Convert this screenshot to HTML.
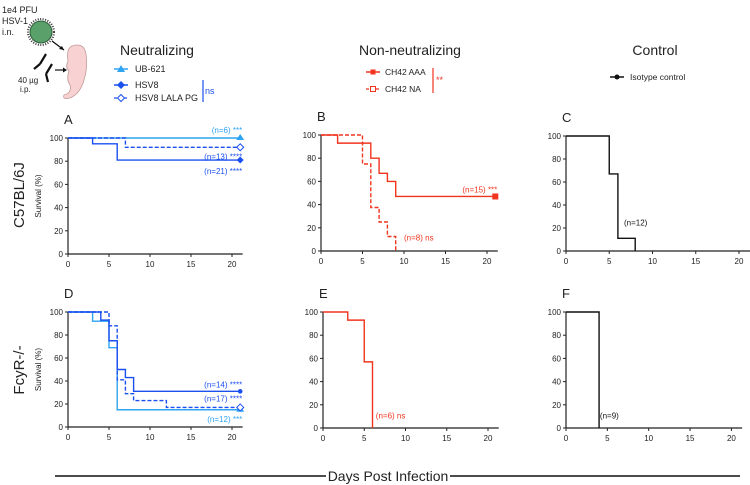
<!DOCTYPE html>
<html><head><meta charset="utf-8"><style>
body{margin:0;background:#fff;}
svg{display:block;font-family:"Liberation Sans",Arial,sans-serif;}
</style></head><body>
<svg id="fig" width="750" height="485" viewBox="0 0 750 485" xmlns="http://www.w3.org/2000/svg">
<g>
<text x="2" y="13" font-size="9" fill="#222">1e4 PFU</text>
<text x="2" y="24" font-size="9" fill="#222">HSV-1</text>
<text x="2" y="35" font-size="9" fill="#222">i.n.</text>
<circle cx="41" cy="32" r="13" fill="none" stroke="#333" stroke-width="2" stroke-dasharray="1 1.5"/>
<circle cx="41" cy="32" r="11" fill="#5aa06a" stroke="#2c5a38" stroke-width="1"/>
<line x1="52" y1="41" x2="64" y2="50" stroke="#111" stroke-width="1.3"/>
<path d="M64 50 l-5 -1 l3 -3z" fill="#111"/>
<path d="M72 46 q12 -4 14 8 q2 14 -2 26 q-4 14 -14 18 q-8 2 -6 -3 q8 -2 6 -10 q-4 -6 -1 -14 q-4 -4 -1 -10 q-2 -12 4 -15z" fill="#f8d2d2" stroke="#c49a9a" stroke-width="0.8"/>
<g stroke="#111" stroke-width="2.2" fill="none">
<path d="M40 64 l6 -10 M40 64 l-6 5 M46 74 l6 -10 M46 74 l2 8"/>
</g>
<line x1="55" y1="70" x2="66" y2="70" stroke="#111" stroke-width="1.2"/>
<path d="M67 70 l-4 -2.5 v5z" fill="#111"/>
<text x="18" y="83" font-size="8" fill="#222">40 µg</text>
<text x="20" y="92" font-size="8" fill="#222">i.p.</text>
</g>
<text x="157" y="55" font-size="14" text-anchor="middle" fill="#222">Neutralizing</text>
<g>
<line x1="114" y1="69" x2="128" y2="69" stroke="#2ea3f2" stroke-width="1.5"/><path d="M121 65 l4 7 h-8z" fill="#2ea3f2"/>
<text x="135" y="72" font-size="9" fill="#222">UB-621</text>
<line x1="114" y1="85" x2="128" y2="85" stroke="#1a4ff0" stroke-width="1.5"/><path d="M121 81 l4 4 l-4 4 l-4 -4z" fill="#1a4ff0"/>
<text x="135" y="88" font-size="9" fill="#222">HSV8</text>
<line x1="114" y1="98" x2="128" y2="98" stroke="#1a4ff0" stroke-width="1.2" stroke-dasharray="3 2"/><path d="M121 94.5 l3.5 3.5 l-3.5 3.5 l-3.5 -3.5z" fill="#fff" stroke="#1a4ff0"/>
<text x="135" y="101" font-size="9" fill="#222">HSV8 LALA PG</text>
<line x1="203" y1="80" x2="203" y2="102" stroke="#1a4ff0" stroke-width="1.2"/>
<text x="205" y="94" font-size="9" fill="#1a4ff0">ns</text>
</g>
<text x="410" y="55" font-size="14" text-anchor="middle" fill="#222">Non-neutralizing</text>
<g>
<line x1="366" y1="72" x2="380" y2="72" stroke="#f0341e" stroke-width="1.5"/><rect x="370.5" y="69.5" width="5" height="5" fill="#f0341e"/>
<text x="385" y="75" font-size="8.5" fill="#222">CH42 AAA</text>
<line x1="366" y1="89" x2="380" y2="89" stroke="#f0341e" stroke-width="1.2" stroke-dasharray="3 2"/><rect x="370.5" y="86.5" width="5" height="5" fill="#fff" stroke="#f0341e"/>
<text x="385" y="92" font-size="8.5" fill="#222">CH42 NA</text>
<line x1="433" y1="68" x2="433" y2="93" stroke="#f0341e" stroke-width="1.2"/>
<text x="436" y="83" font-size="9" fill="#f0341e">**</text>
</g>
<text x="655" y="55" font-size="14" text-anchor="middle" fill="#222">Control</text>
<g>
<line x1="610" y1="77" x2="624" y2="77" stroke="#111" stroke-width="1.5"/><circle cx="617" cy="77" r="2.5" fill="#111"/>
<text x="630" y="80" font-size="8.5" fill="#222">Isotype control</text>
</g>
<text transform="translate(24,195) rotate(-90)" font-size="15" text-anchor="middle" fill="#222">C57BL/6J</text>
<text transform="translate(24,370) rotate(-90)" font-size="15" text-anchor="middle" fill="#222">FcyR-/-</text>
<g id="panels"></g>
<g>
<line x1="55" y1="476" x2="326" y2="476" stroke="#111" stroke-width="1.6"/>
<line x1="450" y1="476" x2="740" y2="476" stroke="#111" stroke-width="1.6"/>
<text x="388" y="481" font-size="14" text-anchor="middle" fill="#222">Days Post Infection</text>
</g>
</svg>
<script>
const LB="#2ea3f2", DB="#1a4ff0", RD="#f0341e", BK="#111";
const xTicks=[0,5,10,15,20];
const yTicks=[0,20,40,60,80,100];
const aUBt=[], aUBs=[];
const aHSVt=[3,6], aHSVs=[95,81];
const aLALAt=[7], aLALAs=[92];
const bAAAt=[2,6,7,8,9], bAAAs=[93,80,67,60,47];
const bNAt=[5,6,7,8,9], bNAs=[75,37.5,25,12.5,0];
const cISOt=[5,6,8], cISOs=[67,11,0];
const dUBt=[3,5,6], dUBs=[92,69,15];
const dHSVt=[4,5,6,7,8], dHSVs=[93,75,50,43,31];
const dLALAt=[5,6,7,8,12], dLALAs=[88,41,29,23,17];
const eAAAt=[3,5,6], eAAAs=[93,57,0];
const fISOt=[4], fISOs=[0];

const panels=[
 {id:"A",x0:68,sc:8.2,yt:138,yb:254,ylab:true,series:[
  {t:aUBt,s:aUBs,c:LB,m:"tri",n:"(n=6) ***",ny:-5},
  {t:aLALAt,s:aLALAs,c:DB,d:true,m:"odia",n:"(n=13) ****",ny:12},
  {t:aHSVt,s:aHSVs,c:DB,m:"dia",n:"(n=21) ****",ny:14}]},
 {id:"B",x0:321,sc:8.3,yt:135,yb:251,series:[
  {t:bAAAt,s:bAAAs,c:RD,m:"sq",n:"(n=15) ***",ny:-4},
  {t:bNAt,s:bNAs,c:RD,d:true,n:"(n=8) ns",nx:10,ny:-3,endAt:"drop"}]},
 {id:"C",x0:566,sc:8.65,yt:136,yb:251,series:[
  {t:cISOt,s:cISOs,c:BK,n:"(n=12)",nx:6.7,nval:22,endAt:"drop"}]},
 {id:"D",x0:68,sc:8.2,yt:312,yb:427,ylab:true,series:[
  {t:dUBt,s:dUBs,c:LB,m:"tri",n:"(n=12) ***",ny:12},
  {t:dLALAt,s:dLALAs,c:DB,d:true,m:"odia",n:"(n=17) ****",ny:-6},
  {t:dHSVt,s:dHSVs,c:DB,m:"dot",n:"(n=14) ****",ny:-4}]},
 {id:"E",x0:323,sc:8.25,yt:312,yb:428,series:[
  {t:eAAAt,s:eAAAs,c:RD,n:"(n=6) ns",nx:6.4,nval:8,endAt:"drop"}]},
 {id:"F",x0:566,sc:8.27,yt:312,yb:428,series:[
  {t:fISOt,s:fISOs,c:BK,n:"(n=9)",nx:4.1,nval:8,endAt:"drop"}]}
];
const NS="http://www.w3.org/2000/svg";
const root=document.getElementById("panels");
function mk(tag,attrs,parent){const e=document.createElementNS(NS,tag);for(const k in attrs)e.setAttribute(k,attrs[k]);parent.appendChild(e);return e;}
panels.forEach(p=>{
 const g=mk("g",{},root);
 
 
 const X=d=>p.x0+d*p.sc, Y=v=>p.yb-(v/100)*(p.yb-p.yt);
 const L=mk("text",{x:p.x0-4,y:p.yt-14,"font-size":13,fill:"#222"},g);L.textContent=p.id;
 
 
 mk("line",{x1:p.x0,y1:p.yt,x2:p.x0,y2:p.yb,stroke:"#222","stroke-width":1.2},g);
 mk("line",{x1:p.x0,y1:p.yb,x2:X(21.3),y2:p.yb,stroke:"#222","stroke-width":1.2},g);
 yTicks.forEach(v=>{mk("line",{x1:p.x0-3,y1:Y(v),x2:p.x0,y2:Y(v),stroke:"#222"},g);
  const t=mk("text",{x:p.x0-5,y:Y(v)+3,"font-size":8,"text-anchor":"end",fill:"#222"},g);t.textContent=v;
  
  });
 xTicks.forEach(v=>{mk("line",{x1:X(v),y1:p.yb,x2:X(v),y2:p.yb+3,stroke:"#222"},g);
  const t=mk("text",{x:X(v),y:p.yb+13,"font-size":8,"text-anchor":"middle",fill:"#222"},g);t.textContent=v;
  
  });
 if(p.ylab){const t=mk("text",{transform:`translate(${p.x0-27},${(p.yt+p.yb)/2}) rotate(-90)`,"font-size":8,"text-anchor":"middle",fill:"#222"},g);t.textContent="Survival (%)";
  
  }
 p.series.forEach(s=>{
  let d=`M${X(0)},${Y(100)}`, cur=100;
  s.t.forEach((tt,i)=>{d+=` H${X(tt)} V${Y(s.s[i])}`;cur=s.s[i];});
  if(s.endAt!=="drop"||cur>0) d+=` H${X(21)}`;
  const path=mk("path",{d:d,fill:"none",stroke:s.c,"stroke-width":1.4},g);
  if(s.d)path.setAttribute("stroke-dasharray","4 2");
  
  
  const ex=X(21), ey=Y(cur);
  let m=null;
  if(s.m==="tri")m=mk("path",{d:`M${ex},${ey-4} l4,6 h-8z`,fill:s.c},g);
  else if(s.m==="dia")m=mk("path",{d:`M${ex},${ey-3.5} l3.5,3.5 l-3.5,3.5 l-3.5,-3.5z`,fill:s.c},g);
  else if(s.m==="odia")m=mk("path",{d:`M${ex},${ey-3.5} l3.5,3.5 l-3.5,3.5 l-3.5,-3.5z`,fill:"#fff",stroke:s.c},g);
  else if(s.m==="sq")m=mk("rect",{x:ex-3,y:ey-3,width:6,height:6,fill:s.c},g);
  else if(s.m==="dot")m=mk("circle",{cx:ex,cy:ey,r:2.3,fill:s.c},g);
  if(m){
   }
  let tx,ty,anchor;
  if(s.nx!==undefined){tx=X(s.nx);ty=Y(s.nval!==undefined?s.nval:cur)+(s.ny||0);anchor="start";
   if(s.nval===undefined)ty=Y(12.5)+4;}
  else{tx=X(21)+2;ty=ey+s.ny;anchor="end";}
  const lab=mk("text",{x:tx,y:ty,"font-size":8,"text-anchor":anchor,fill:s.c},g);lab.textContent=s.n;
  
  
 });
});
</script>
</body></html>
